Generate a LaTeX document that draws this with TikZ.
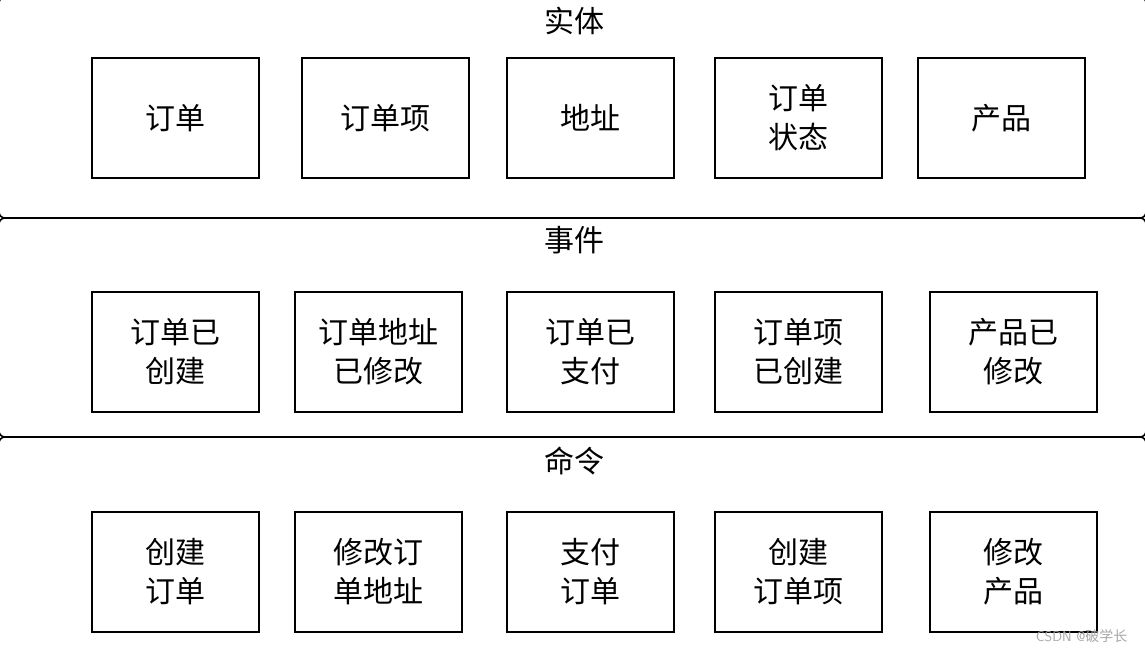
\documentclass[tikz,border=0pt]{standalone}
\usepackage{fontspec}
\newfontfamily\cjk{Noto Sans CJK SC}
\begin{document}
\begin{tikzpicture}[x=1pt,y=-1pt,
  panel/.style={draw=black,line width=1.6pt,rounded corners=6pt},
  item/.style={draw=black,line width=1.6pt,minimum width=167pt,minimum height=120pt,inner sep=0pt,
    align=center,font=\cjk\fontsize{30}{39}\selectfont,anchor=north west},
  ttl/.style={font=\cjk\fontsize{30}{35}\selectfont,anchor=center},
  wm/.style={font=\sffamily\fontsize{14}{16}\selectfont,text=black!35}]
\useasboundingbox (0,0) rectangle (1145,652);
\begin{scope}
\clip (0,0) rectangle (1145,652);
\draw[panel] (-1,-3) rectangle (1146,218);
\draw[panel] (-1,218) rectangle (1146,437);
\draw[panel] (-1,437) rectangle (1146,665);
\end{scope}
\node[ttl] (t1) at (574,21) {实体};
\node[ttl] (t2) at (574,240) {事件};
\node[ttl] (t3) at (574,461) {命令};
% row 1
\node[item] (e1) at (91,57) {订单};
\node[item] (e2) at (301,57) {订单项};
\node[item] (e3) at (506,57) {地址};
\node[item] (e4) at (714,57) {订单\\状态};
\node[item] (e5) at (917,57) {产品};
% row 2
\node[item] (v1) at (91,291) {订单已\\创建};
\node[item] (v2) at (294,291) {订单地址\\已修改};
\node[item] (v3) at (506,291) {订单已\\支付};
\node[item] (v4) at (714,291) {订单项\\已创建};
\node[item] (v5) at (929,291) {产品已\\修改};
% row 3
\node[item] (c1) at (91,511) {创建\\订单};
\node[item] (c2) at (294,511) {修改订\\单地址};
\node[item] (c3) at (506,511) {支付\\订单};
\node[item] (c4) at (714,511) {创建\\订单项};
\node[item] (c5) at (929,511) {修改\\产品};
\node[wm,anchor=east] (w) at (1131,636) {CSDN @{\cjk 破学长}};
\end{tikzpicture}
\end{document}
